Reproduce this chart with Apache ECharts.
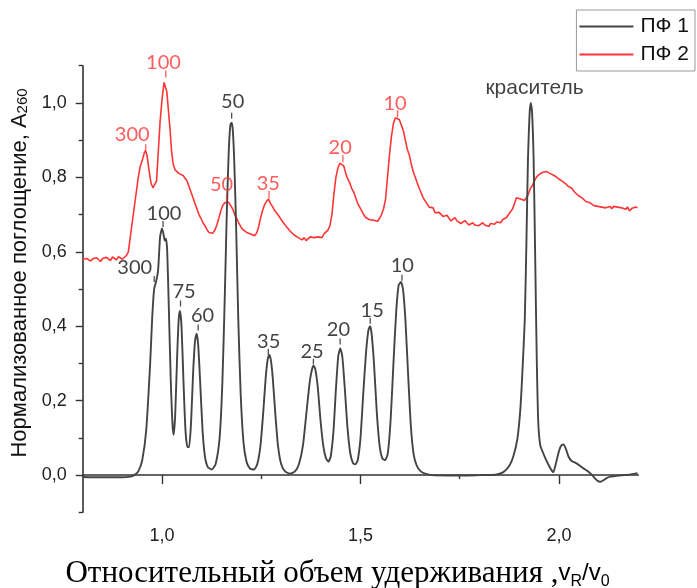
<!DOCTYPE html>
<html><head><meta charset="utf-8">
<script src="https://cdn.jsdelivr.net/npm/echarts@6/dist/echarts.min.js"></script>
<style>html,body{margin:0;padding:0;background:#fff}#c{width:697px;height:588px}</style>
</head><body><div id="c"></div>
<script>
// ---- ПФ 1 (black) ----
const blackX = [0.80,0.85,0.90,0.92,0.93,0.94,0.95,0.96,0.97,0.975,0.98,0.985,0.99,0.995,1.000,1.004,1.007,1.010,1.013,1.017,1.022,1.026,1.029,1.033,1.038,1.042,1.045,1.049,1.054,1.059,1.064,1.068,1.073,1.078,1.083,1.087,1.091,1.096,1.102,1.108,1.115,1.125,1.135,1.145,1.152,1.158,1.163,1.168,1.172,1.175,1.178,1.182,1.187,1.192,1.198,1.205,1.213,1.222,1.232,1.240,1.248,1.255,1.261,1.266,1.270,1.274,1.279,1.285,1.292,1.300,1.310,1.322,1.335,1.345,1.355,1.364,1.372,1.378,1.382,1.386,1.392,1.399,1.406,1.413,1.419,1.425,1.432,1.438,1.444,1.449,1.454,1.460,1.467,1.474,1.481,1.487,1.493,1.500,1.507,1.514,1.520,1.524,1.528,1.534,1.541,1.548,1.555,1.562,1.569,1.576,1.583,1.590,1.596,1.602,1.607,1.613,1.620,1.627,1.634,1.642,1.652,1.665,1.68,1.72,1.76,1.80,1.84,1.86,1.875,1.885,1.895,1.903,1.909,1.914,1.918,1.922,1.926,1.929,1.932,1.936,1.940,1.944,1.948,1.953,1.960,1.967,1.975,1.982,1.986,1.992,1.999,2.005,2.011,2.017,2.024,2.032,2.042,2.052,2.062,2.072,2.082,2.092,2.100,2.105,2.112,2.120,2.130,2.139,2.150,2.165,2.180,2.198];
const blackY = [-0.005,-0.006,-0.006,-0.004,0.0,0.01,0.04,0.12,0.30,0.42,0.50,0.52,0.55,0.64,0.663,0.645,0.63,0.635,0.60,0.45,0.25,0.14,0.108,0.16,0.32,0.42,0.441,0.40,0.25,0.12,0.075,0.075,0.14,0.27,0.36,0.38,0.35,0.25,0.12,0.05,0.022,0.015,0.03,0.10,0.25,0.48,0.70,0.87,0.94,0.947,0.93,0.84,0.65,0.42,0.22,0.09,0.035,0.017,0.015,0.03,0.08,0.17,0.26,0.31,0.323,0.31,0.26,0.17,0.08,0.03,0.01,0.004,0.01,0.03,0.08,0.17,0.25,0.285,0.294,0.285,0.24,0.15,0.08,0.045,0.036,0.05,0.12,0.23,0.32,0.34,0.32,0.24,0.13,0.06,0.032,0.029,0.04,0.10,0.22,0.33,0.39,0.40,0.38,0.30,0.17,0.08,0.045,0.04,0.06,0.15,0.30,0.44,0.51,0.519,0.50,0.42,0.27,0.13,0.055,0.025,0.01,0.003,0.0,-0.001,-0.001,0.0,0.001,0.008,0.025,0.05,0.095,0.18,0.30,0.42,0.62,0.85,0.97,1.0,0.98,0.86,0.60,0.32,0.14,0.08,0.06,0.042,0.025,0.012,0.008,0.03,0.06,0.078,0.082,0.072,0.05,0.038,0.033,0.026,0.018,0.011,0.002,-0.01,-0.017,-0.018,-0.014,-0.008,-0.004,-0.003,-0.001,0.0,0.002,0.005];

// ---- ПФ 2 (red) ----
const redX = [0.800,0.805,0.810,0.815,0.820,0.825,0.830,0.835,0.840,0.845,0.850,0.855,0.860,0.865,0.870,0.875,0.880,0.885,0.890,0.895,0.900,0.905,0.910,0.915,0.920,0.925,0.930,0.935,0.940,0.945,0.950,0.955,0.958,0.962,0.967,0.972,0.977,0.982,0.986,0.990,0.995,1.000,1.005,1.008,1.012,1.016,1.020,1.024,1.028,1.033,1.038,1.043,1.048,1.053,1.058,1.063,1.068,1.073,1.078,1.083,1.088,1.093,1.098,1.103,1.108,1.113,1.118,1.123,1.128,1.133,1.138,1.143,1.148,1.153,1.158,1.163,1.168,1.173,1.178,1.183,1.188,1.193,1.198,1.203,1.208,1.213,1.218,1.223,1.228,1.233,1.238,1.243,1.248,1.253,1.258,1.263,1.268,1.273,1.278,1.283,1.288,1.293,1.298,1.303,1.308,1.313,1.318,1.323,1.328,1.333,1.338,1.343,1.348,1.353,1.358,1.363,1.368,1.373,1.378,1.383,1.388,1.393,1.398,1.403,1.408,1.413,1.418,1.423,1.428,1.433,1.438,1.443,1.448,1.453,1.458,1.463,1.468,1.473,1.478,1.483,1.488,1.493,1.498,1.503,1.508,1.513,1.518,1.523,1.528,1.533,1.538,1.543,1.548,1.553,1.558,1.563,1.568,1.573,1.578,1.583,1.588,1.593,1.598,1.603,1.608,1.613,1.618,1.623,1.628,1.633,1.638,1.643,1.648,1.653,1.658,1.663,1.668,1.673,1.678,1.683,1.688,1.693,1.698,1.703,1.708,1.713,1.718,1.723,1.728,1.733,1.738,1.743,1.748,1.753,1.758,1.763,1.768,1.773,1.778,1.783,1.788,1.793,1.798,1.803,1.808,1.813,1.818,1.823,1.828,1.833,1.838,1.843,1.848,1.853,1.858,1.863,1.868,1.873,1.878,1.883,1.888,1.893,1.898,1.903,1.908,1.913,1.918,1.923,1.928,1.933,1.938,1.943,1.948,1.953,1.958,1.963,1.968,1.973,1.978,1.983,1.988,1.993,1.998,2.003,2.008,2.013,2.018,2.023,2.028,2.033,2.038,2.043,2.048,2.053,2.058,2.063,2.068,2.073,2.078,2.083,2.088,2.093,2.098,2.103,2.108,2.113,2.118,2.123,2.128,2.133,2.138,2.143,2.148,2.153,2.158,2.163,2.168,2.173,2.178,2.183,2.188,2.193,2.198];
const redY = [0.580,0.576,0.582,0.578,0.575,0.581,0.577,0.584,0.579,0.574,0.582,0.578,0.585,0.580,0.576,0.586,0.582,0.578,0.587,0.583,0.580,0.585,0.590,0.60,0.64,0.68,0.72,0.76,0.80,0.83,0.845,0.865,0.872,0.86,0.82,0.785,0.772,0.773,0.79,0.86,0.95,1.01,1.055,1.06,1.03,0.98,0.93,0.87,0.835,0.82,0.817,0.81,0.812,0.805,0.80,0.79,0.775,0.76,0.745,0.73,0.715,0.70,0.69,0.678,0.67,0.66,0.652,0.648,0.65,0.658,0.672,0.69,0.71,0.725,0.732,0.737,0.733,0.728,0.715,0.70,0.69,0.678,0.668,0.66,0.662,0.652,0.655,0.648,0.645,0.643,0.65,0.665,0.69,0.71,0.726,0.735,0.742,0.73,0.722,0.712,0.705,0.698,0.69,0.682,0.678,0.668,0.665,0.655,0.652,0.645,0.642,0.638,0.635,0.632,0.638,0.63,0.634,0.64,0.636,0.638,0.634,0.64,0.645,0.638,0.648,0.65,0.658,0.67,0.70,0.755,0.80,0.825,0.838,0.84,0.83,0.81,0.795,0.785,0.77,0.76,0.745,0.73,0.72,0.71,0.70,0.692,0.69,0.686,0.69,0.685,0.684,0.682,0.69,0.70,0.715,0.74,0.80,0.86,0.91,0.945,0.96,0.965,0.955,0.94,0.925,0.90,0.875,0.86,0.835,0.815,0.80,0.785,0.77,0.758,0.745,0.74,0.728,0.72,0.715,0.718,0.705,0.70,0.706,0.702,0.695,0.69,0.698,0.69,0.683,0.688,0.692,0.683,0.68,0.676,0.68,0.684,0.678,0.672,0.675,0.678,0.672,0.676,0.67,0.674,0.678,0.672,0.675,0.668,0.676,0.678,0.674,0.68,0.683,0.678,0.686,0.69,0.692,0.70,0.705,0.715,0.73,0.745,0.748,0.742,0.745,0.738,0.745,0.755,0.77,0.778,0.79,0.80,0.806,0.81,0.813,0.815,0.816,0.812,0.81,0.806,0.805,0.80,0.797,0.795,0.79,0.788,0.782,0.776,0.773,0.77,0.762,0.758,0.752,0.748,0.745,0.742,0.735,0.738,0.732,0.73,0.724,0.728,0.722,0.726,0.72,0.724,0.718,0.72,0.722,0.716,0.722,0.718,0.72,0.716,0.718,0.72,0.714,0.72,0.71,0.716,0.712,0.72,0.718];

// ---- peak annotations ----
const redLabelText = ['300','100','50','35','20','10'];
const redLabelX = [0.9247,1.0035,1.150,1.2677,1.4487,1.5869];
const redLabelY = [0.9155,1.1094,0.780,0.7826,0.8797,0.9992];
const redTickX = [0.9588,1.0093,1.1626,1.2694,1.4556,1.5934];
const redTickY = [0.8797,1.0775,0.747,0.754,0.850,0.971];

const blackLabelText = ['300','100','75','60','50','35','25','20','15','10'];
const blackLabelX = [0.9311,1.0048,1.0553,1.1020,1.1778,1.2687,1.3780,1.4444,1.5295,1.6053];
const blackLabelY = [0.5567,0.7016,0.4944,0.4275,1.0024,0.3583,0.3316,0.3922,0.4409,0.5634];
const blackTickX = [0.9803,1.0025,1.0465,1.0909,1.1753,1.2677,1.3813,1.4487,1.5245,1.6045];
const blackTickY = [0.5267,0.6749,0.4610,0.3963,0.9658,0.3316,0.3048,0.3588,0.4150,0.5300];

const dyeLabelText = ['краситель'];
const dyeLabelX = [1.9386];
const dyeLabelY = [1.0393];

// ---- axis ticks ----
const xMajor = [1.0,1.5,2.0];
const xMinor = [1.25,1.75];
const yMajor = [0.0,0.2,0.4,0.6,0.8,1.0];
const yMinor = [-0.1,0.1,0.3,0.5,0.7,0.9,1.1];

const zip = (a,b) => a.map((v,i)=>[v,b[i]]);
const comma = v => v.toFixed(1).replace('.', ',');

const chart = echarts.init(document.getElementById('c'), null, {renderer:'canvas'});
const axisColor = '#333';
const labelFont = 'Liberation Sans, Arial, sans-serif';

chart.setOption({
  animation:false,
  backgroundColor:'#fff',
  grid:{left:82.7, right:58.7, top:65.7, bottom:75.7, outerBoundsMode:'none', containLabel:false},
  legend:{
    data:['ПФ 1','ПФ 2'], orient:'vertical', right:2, top:10,
    borderColor:'#999', borderWidth:1, padding:[6,6,6,3],
    icon:'rect', itemWidth:54, itemHeight:2, itemGap:7,
    textStyle:{fontSize:21, fontFamily:labelFont, color:'#111', padding:[0,0,0,2]}
  },
  xAxis:[{
    type:'value', min:0.8, max:2.2, position:'bottom',
    splitLine:{show:false},
    axisLine:{lineStyle:{color:axisColor, width:1.6}},
    axisTick:{customValues:xMajor, length:9, lineStyle:{color:axisColor, width:1.4}},
    axisLabel:{customValues:xMajor, formatter:comma, fontSize:18, fontFamily:labelFont, color:'#222', margin:15},
    name:'{t|Относительный объем удерживания ,}{v|v}{s|R}{v|/v}{s|0}',
    nameLocation:'middle', nameGap:46,
    nameTextStyle:{padding:[0,46,0,0],
      rich:{
        t:{fontFamily:'Liberation Serif, Times New Roman, serif', fontSize:31, color:'#000'},
        v:{fontFamily:labelFont, fontSize:24, color:'#000'},
        s:{fontFamily:labelFont, fontSize:16, color:'#000', verticalAlign:'bottom', padding:[9,0,0,0]}
      }}
  },{
    type:'value', min:0.8, max:2.2, position:'bottom',
    axisLine:{show:false}, splitLine:{show:false},
    axisTick:{customValues:xMinor, length:4, lineStyle:{color:axisColor, width:1.4}},
    axisLabel:{show:false}
  }],
  yAxis:[{
    type:'value', min:-0.1, max:1.1, position:'left',
    splitLine:{show:false},
    axisLine:{show:true, lineStyle:{color:axisColor, width:1.6}},
    axisTick:{show:true, customValues:yMajor, length:7, lineStyle:{color:axisColor, width:1.4}},
    axisLabel:{customValues:yMajor, formatter:comma, fontSize:18, fontFamily:labelFont, color:'#222', margin:16},
    name:'{t|Нормализованное поглощение, A}{s|260}',
    nameLocation:'middle', nameRotate:90, nameGap:52,
    nameTextStyle:{padding:[0,0,0,32],
      rich:{
        t:{fontFamily:labelFont, fontSize:22, color:'#111'},
        s:{fontFamily:labelFont, fontSize:15, color:'#111', verticalAlign:'bottom', padding:[7,0,0,0]}
      }}
  },{
    type:'value', min:-0.1, max:1.1, position:'left',
    axisLine:{show:false}, splitLine:{show:false},
    axisTick:{show:true, customValues:yMinor, length:4, lineStyle:{color:axisColor, width:1.4}},
    axisLabel:{show:false}
  }],
  series:[
    {name:'ПФ 2', type:'line', data:zip(redX,redY), symbol:'none', showSymbol:false,
     lineStyle:{color:'#ff3535', width:1.6}, itemStyle:{color:'#ff3535'}, z:2},
    {name:'ПФ 1', type:'line', data:zip(blackX,blackY), symbol:'none', showSymbol:false, smooth:0.2,
     lineStyle:{color:'#444', width:1.9}, itemStyle:{color:'#444'}, z:3},
    {name:'redTicks', type:'scatter', data:zip(redTickX,redTickY), symbol:'rect', symbolSize:[1.3,7],
     itemStyle:{color:'#ff3535'}, clip:false, z:4, silent:true},
    {name:'blackTicks', type:'scatter', data:zip(blackTickX,blackTickY), symbol:'rect', symbolSize:[1.3,6],
     itemStyle:{color:'#222'}, clip:false, z:4, silent:true},
    {name:'redLabels', type:'scatter', clip:false, z:5, silent:true,
     data:redLabelText.map((t,i)=>({value:[redLabelX[i],redLabelY[i]], name:t})),
     symbolSize:0,
     label:{show:true, position:'inside', formatter:p=>p.name, fontFamily:'Lato, sans-serif', fontSize:20, color:'#ff3535'}},
    {name:'blackLabels', type:'scatter', clip:false, z:5, silent:true,
     data:blackLabelText.map((t,i)=>({value:[blackLabelX[i],blackLabelY[i]], name:t})),
     symbolSize:0,
     label:{show:true, position:'inside', formatter:p=>p.name, fontFamily:'Lato, sans-serif', fontSize:20, color:'#111'}},
    {name:'dyeLabel', type:'scatter', clip:false, z:5, silent:true,
     data:dyeLabelText.map((t,i)=>({value:[dyeLabelX[i],dyeLabelY[i]], name:t})),
     symbolSize:0,
     label:{show:true, position:'inside', formatter:p=>p.name, fontFamily:labelFont, fontSize:21, color:'#111'}}
  ]
});
</script></body></html>
